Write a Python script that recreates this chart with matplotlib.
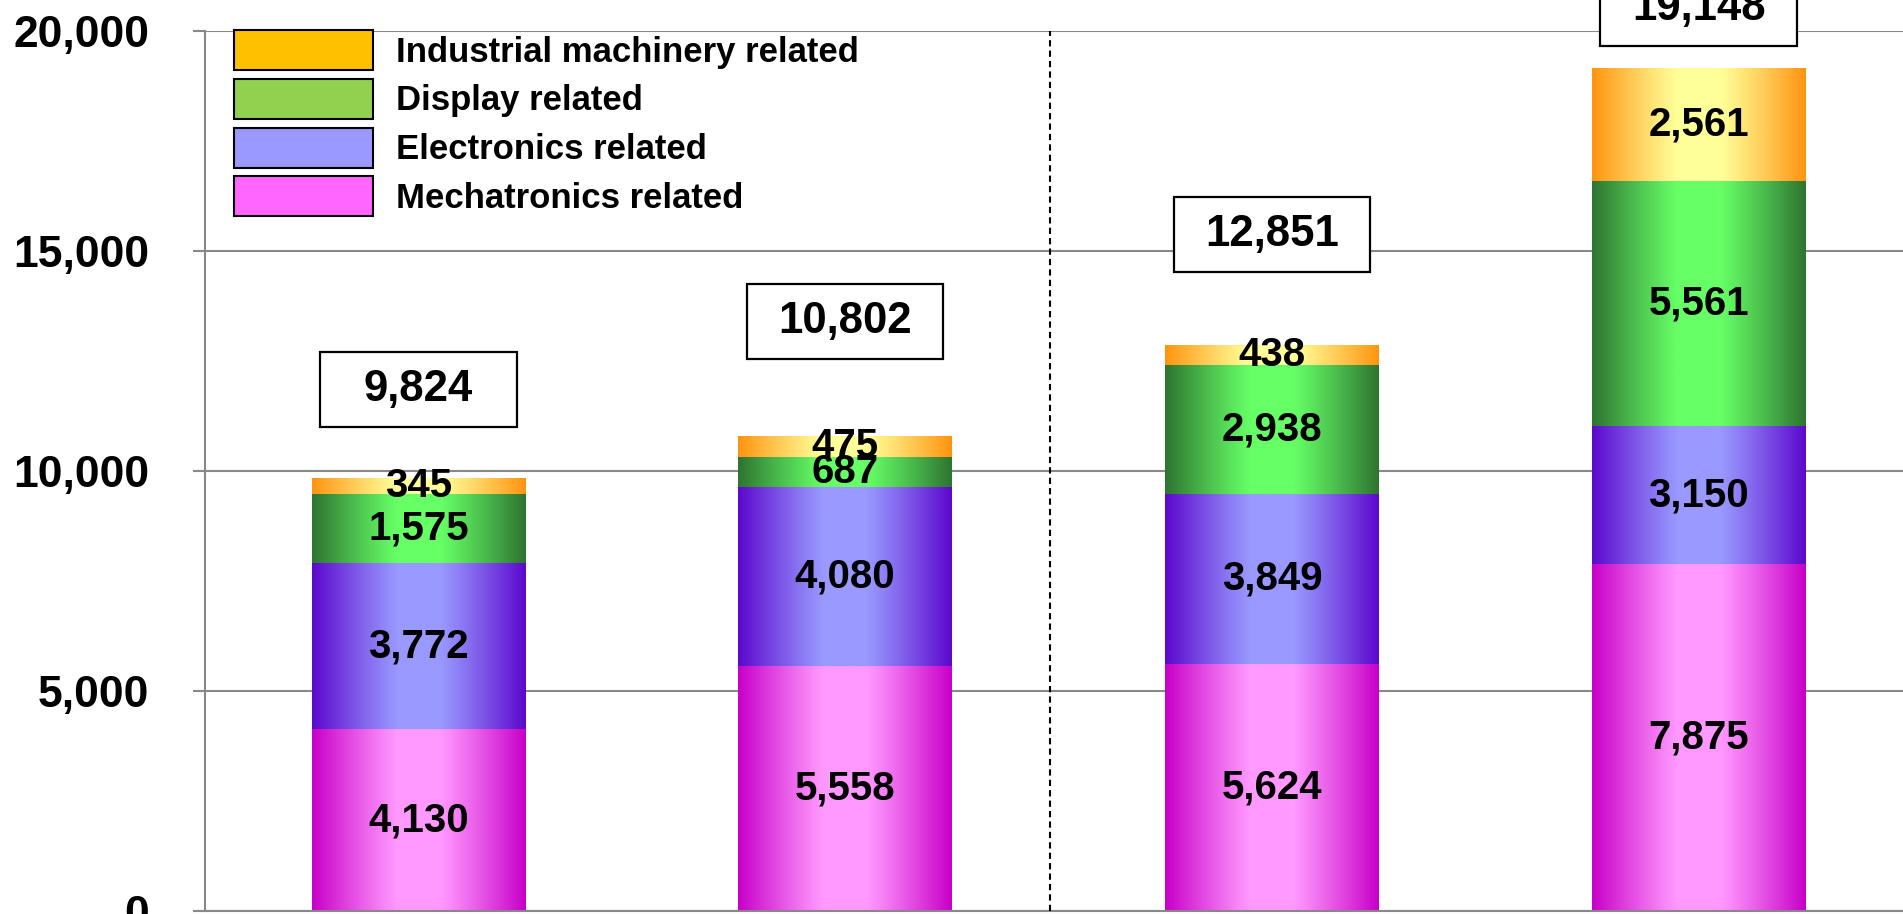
import numpy as np
import matplotlib
matplotlib.use("Agg")
import matplotlib.pyplot as plt
from matplotlib.patches import Patch, Rectangle
from matplotlib.colors import to_rgb

plt.rcParams['font.family'] = ['Liberation Sans', 'DejaVu Sans']
plt.rcParams['font.weight'] = 'bold'

# ---- data -------------------------------------------------------------
periods = ["P1", "P2", "P3", "P4"]
mechatronics = [4130, 5558, 5624, 7875]
electronics = [3772, 4080, 3849, 3150]
display = [1575, 687, 2938, 5561]
industrial = [345, 475, 438, 2561]
totals = [9824, 10802, 12851, 19148]

series_names = ["Mechatronics related", "Electronics related",
                "Display related", "Industrial machinery related"]
series_values = [mechatronics, electronics, display, industrial]

# gradient colours (edge, centre) per series and flat legend colours
edge_colors = ["#C800C8", "#5C08CC", "#2E7431", "#FF9410"]
centre_colors = ["#FF99FF", "#9999FF", "#66FF66", "#FFFF99"]
legend_colors = ["#FF66FF", "#9999FF", "#92D050", "#FFC000"]

# vertical placement of the boxed totals
total_label_y = [11850, 13400, 15375, 20510]

# ---- figure -----------------------------------------------------------
W, H = 1903, 914
fig = plt.figure(figsize=(W / 100, H / 100), dpi=100)
ax = fig.add_axes([205 / W, 3 / H, (1912 - 205) / W, (911 - 31) / H])

x = np.arange(len(periods))
bar_w = 0.5

# horizontal shading profile: dark at the edges, light near the middle
xs = np.linspace(0, 1, 256)
d = np.clip((np.abs(xs - 0.5) - 0.1) / 0.4, 0, 1)
weight = 1 - d ** 1.1


def gradient_image(c_edge, c_centre):
    e = np.array(to_rgb(c_edge))
    c = np.array(to_rgb(c_centre))
    row = e[None, :] * (1 - weight[:, None]) + c[None, :] * weight[:, None]
    return row[None, :, :]


bottom = np.zeros(len(periods))
for vals, ce, cc in zip(series_values, edge_colors, centre_colors):
    mid = tuple((np.array(to_rgb(ce)) + np.array(to_rgb(cc))) / 2)
    bars = ax.bar(x, vals, bar_w, bottom=bottom, color=mid,
                  edgecolor="none", zorder=1.5)
    img = gradient_image(ce, cc)
    for b, v, bt in zip(bars, vals, bottom):
        x0, y0 = b.get_x(), b.get_y()
        ax.imshow(img, extent=(x0, x0 + b.get_width(), y0, y0 + b.get_height()),
                  aspect="auto", interpolation="bilinear", zorder=2)
        ax.text(x0 + b.get_width() / 2, bt + v / 2, f"{v:,}", ha="center",
                va="center", fontsize=29, fontweight="bold", zorder=5)
    bottom = bottom + np.array(vals)

# boxed totals (fixed-size frames)
box_w, box_h = 0.46, 1720
for xi, t, ty in zip(x, totals, total_label_y):
    ax.add_patch(Rectangle((xi - box_w / 2, ty - box_h / 2), box_w, box_h,
                           facecolor="white", edgecolor="black", linewidth=1.6,
                           zorder=6, clip_on=False))
    ax.text(xi, ty, f"{t:,}", ha="center", va="center", fontsize=31.5,
            fontweight="bold", zorder=7, clip_on=False)

# dashed separator between the two halves
ax.axvline(1.48, color="black", linestyle=(0, (3, 2)), linewidth=1.5, zorder=4)

ax.set_xlim(-0.5, 3.5)
ax.set_ylim(0, 20000)
ax.set_yticks(np.arange(0, 20001, 5000))
ax.set_yticklabels([f"{v:,}" for v in range(0, 20001, 5000)],
                   fontsize=32, fontweight="bold")
ax.tick_params(axis="y", length=9, width=1.5, color="#888888", pad=31)
ax.set_xticks([])
ax.grid(axis="y", color="#888888", linewidth=1.5, zorder=0)
ax.set_axisbelow(True)
for s in ["top", "right"]:
    ax.spines[s].set_visible(False)
for s in ["left", "bottom"]:
    ax.spines[s].set_color("#888888")
    ax.spines[s].set_linewidth(1.5)

handles = [Patch(facecolor=c, edgecolor="black", linewidth=1.5)
           for c in legend_colors[::-1]]
leg = ax.legend(handles, series_names[::-1], loc="upper left",
                bbox_to_anchor=(234 / W, 1 - 30 / H), bbox_transform=fig.transFigure,
                frameon=False, prop={"size": 25, "weight": "bold"},
                handlelength=4.0, handleheight=1.4, labelspacing=0.25,
                handletextpad=0.66, borderpad=0, borderaxespad=0)
leg.set_zorder(8)

fig.savefig("out.png", dpi=100)
